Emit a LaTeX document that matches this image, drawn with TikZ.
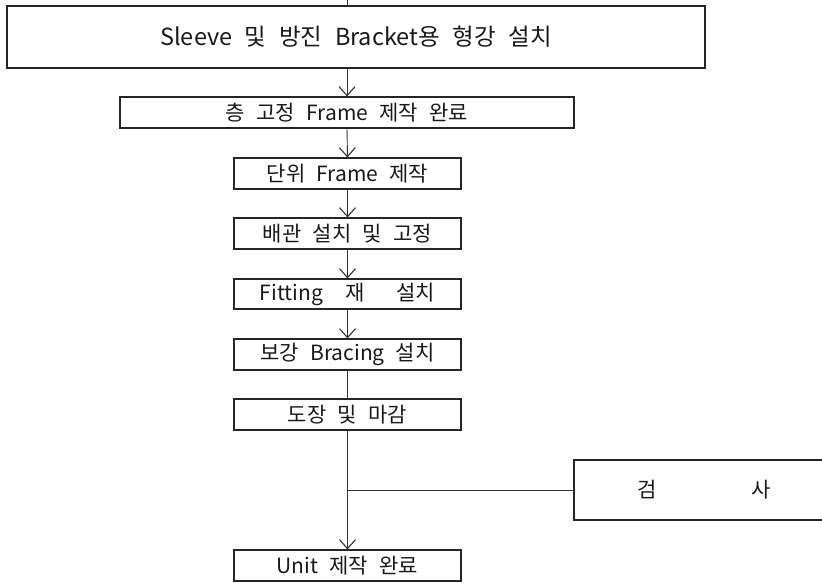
\documentclass[tikz,border=0pt]{standalone}
\usepackage{fontspec}
\setmainfont{Noto Sans CJK KR}[WordSpace=2.4]
\usetikzlibrary{arrows.meta}
\begin{document}
\begin{tikzpicture}[x=1pt,y=-1pt,
  box/.style={draw=black!85, line width=1.1pt, inner sep=0pt, minimum height=31pt, minimum width=227pt,
    font=\fontsize{21}{24}\selectfont, text=black!90},
  link/.style={draw=black!80, line width=0.9pt},
  arr/.style={link, -{Straight Barb[length=9pt,width=16pt,line width=1.1pt]}}]
\useasboundingbox (0,0) rectangle (822,583);
\clip (0,0) rectangle (822,583);
\node[box, minimum width=698pt, minimum height=62pt, font=\fontsize{23.5}{26}\selectfont] (top) at (356,37) {Sleeve 및 방진 Bracket용 형강 설치};
\node[box, minimum width=454pt] (b2) at (347,112.5) {층 고정 Frame 제작 완료};
\node[box] (b3) at (347.5,173.5) {단위 Frame 제작};
\node[box] (b4) at (347.5,233.5) {배관 설치 및 고정};
\node[box, minimum height=30pt] (b5) at (347.5,294) {Fitting\hspace{22pt}재\hspace{32pt}설치};
\node[box] (b6) at (347.5,354.5) {보강 Bracing 설치};
\node[box] (b7) at (347.5,414.5) {도장 및 마감};
\node[box] (b9) at (347.5,565.5) {Unit 제작 완료};
\node[box, minimum width=260pt, minimum height=60pt] (insp) at (704,490) {검\hspace{94pt}사};
\coordinate (t0) at (347,0);
\draw[link] (t0) -- (t0 |- top.north);
\draw[arr] (b2.north |- top.south) -- (b2.north);
\draw[arr] (b2.south) -- (b3.north);
\draw[arr] (b3.south) -- (b4.north);
\draw[arr] (b4.south) -- (b5.north);
\draw[arr] (b5.south) -- (b6.north);
\draw[link] (b6.south) -- (b7.north);
\draw[arr] (b7.south) -- (b9.north);
\draw[link] (insp.west) -- (insp.west -| b7.south);
\end{tikzpicture}
\end{document}
